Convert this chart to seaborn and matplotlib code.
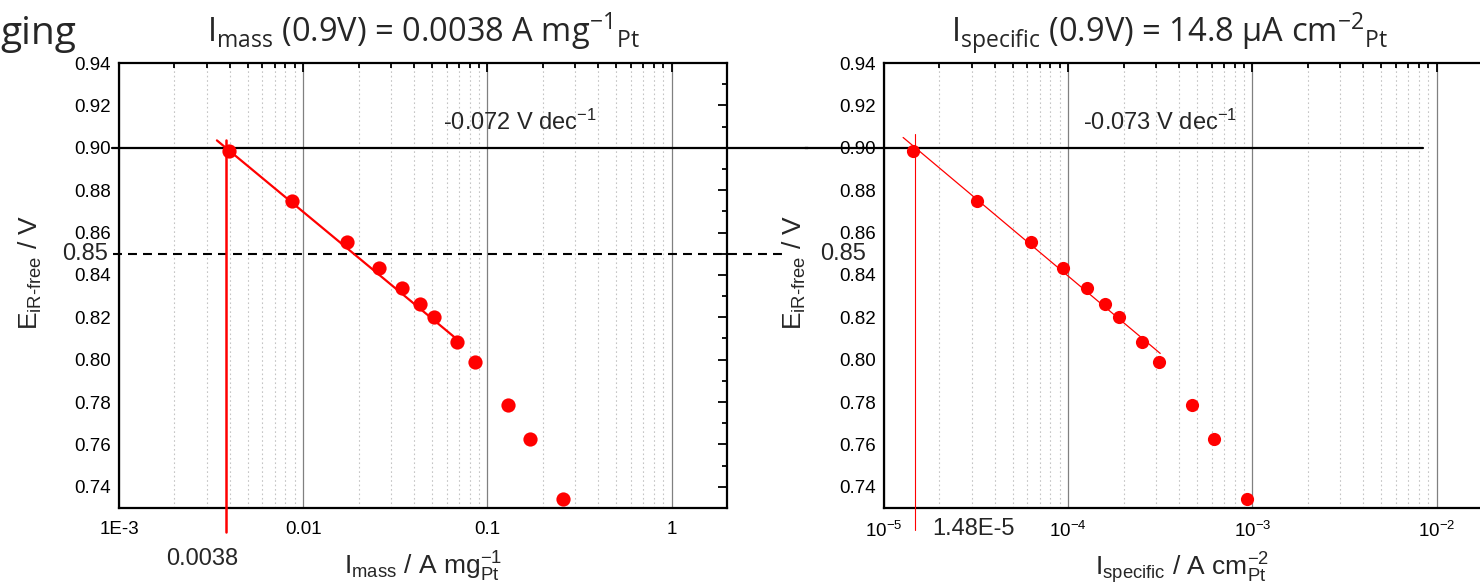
import numpy as np
import matplotlib
matplotlib.use("Agg")
import matplotlib.pyplot as plt
import matplotlib.ticker as mticker
import seaborn as sns

# iR-free potentials of the polarisation points (V)
E_points = [0.8985, 0.8750, 0.8556, 0.8433, 0.8340, 0.8263, 0.8199,
            0.8085, 0.7991, 0.7788, 0.7627, 0.7344]
# mass activity at each point (A mg^-1 Pt)
I_mass = [0.00396, 0.0087, 0.0173, 0.0259, 0.0345, 0.0432, 0.0515,
          0.0687, 0.0861, 0.130, 0.171, 0.259]
# specific activity at each point (A cm^-2 Pt)
I_specific = [1.44e-5, 3.2e-5, 6.3e-5, 9.4e-5, 1.27e-4, 1.59e-4, 1.89e-4,
              2.52e-4, 3.12e-4, 4.72e-4, 6.2e-4, 9.4e-4]

# Tafel analysis at the reference potential
E_ref = 0.90
E_dash = 0.85
I_mass_ref = 0.0038        # A mg^-1 Pt at 0.9 V
I_spec_ref = 1.48e-5       # A cm^-2 Pt at 0.9 V
slope_mass = -0.072        # V dec^-1
slope_spec = -0.073        # V dec^-1
mass_fit_span = [0.0034, 0.0695]
spec_fit_span = [1.27e-5, 3.16e-4]

mass_ticks = [1e-3, 1e-2, 1e-1, 1.0]
mass_ticklabels = ["1E-3", "0.01", "0.1", "1"]
spec_ticks = [1e-5, 1e-4, 1e-3, 1e-2]
spec_ticklabels = [r"$\mathrm{10^{-5}}$", r"$\mathrm{10^{-4}}$",
                   r"$\mathrm{10^{-3}}$", r"$\mathrm{10^{-2}}$"]
E_ticks = [0.74, 0.76, 0.78, 0.80, 0.82, 0.84, 0.86, 0.88, 0.90, 0.92, 0.94]

sns.set_style("white")
plt.rcParams.update({
    "font.family": ["Liberation Sans", "DejaVu Sans"],
    "mathtext.fontset": "custom",
    "mathtext.rm": "Liberation Sans",
    "mathtext.it": "Liberation Sans:italic",
    "mathtext.bf": "Liberation Sans:bold",
    "mathtext.sf": "Open Sans",
})

RED = "#ff0000"


def tafel(I, I0, b):
    return E_ref + b * np.log10(np.asarray(I) / I0)


def style_axes(ax, xlim, ticks, labels):
    ax.set_xscale("log")
    ax.set_xticks(ticks, labels)
    ax.xaxis.set_minor_locator(
        mticker.LogLocator(base=10, subs=np.arange(2, 10), numticks=30))
    ax.xaxis.set_minor_formatter(mticker.NullFormatter())
    ax.set_xlim(*xlim)
    ax.set_yticks(E_ticks, [f"{v:.2f}" for v in E_ticks])
    ax.yaxis.set_minor_locator(mticker.MultipleLocator(0.01))
    ax.set_ylim(0.73, 0.94)
    ax.grid(which="major", axis="x", color="#808080", lw=0.9, ls="-")
    ax.grid(which="minor", axis="x", color="#c4c4c4", lw=0.8,
            ls=(0, (1.5, 2.5)))
    ax.set_axisbelow(True)
    ax.tick_params(which="both", direction="in", top=True, right=True,
                   width=1.3, color="black", labelsize=13.5,
                   labelcolor="black")
    ax.tick_params(which="major", length=6.5)
    ax.tick_params(which="minor", length=3.5)
    ax.tick_params(axis="x", pad=9)
    ax.tick_params(axis="y", pad=6)
    for sp in ax.spines.values():
        sp.set_linewidth(1.6)
        sp.set_color("black")


fig = plt.figure(figsize=(14.8, 5.88), dpi=100)
W, H = 1480, 588
ax1 = fig.add_axes([119 / W, 1 - 508 / H, 608 / W, 445 / H])
ax2 = fig.add_axes([884 / W, 1 - 508 / H, 608 / W, 445 / H])

style_axes(ax1, (1e-3, 2.0), mass_ticks, mass_ticklabels)
style_axes(ax2, (1e-5, 2e-2), spec_ticks, spec_ticklabels)

# ---- mass activity panel ----
ax1.axhline(E_ref, xmin=-0.0115, xmax=1.133, color="black", lw=1.6,
            clip_on=False, zorder=3)
ax1.axhline(E_dash, xmin=-0.0099, xmax=1.095, color="black", lw=1.5,
            ls=(0, (4.3, 2.9)), clip_on=False, zorder=3)
ax1.axvline(I_mass_ref, ymin=-0.054, ymax=0.826, color=RED, lw=1.8,
            clip_on=False, zorder=3)
sns.lineplot(x=mass_fit_span, y=tafel(mass_fit_span, I_mass_ref, slope_mass),
             ax=ax1, color=RED, lw=1.6, zorder=4)
sns.scatterplot(x=I_mass, y=E_points, ax=ax1, color=RED, s=105,
                linewidth=0, zorder=5)

ax1.set_ylabel(r"E$_{\text{iR-free}}$ / V", fontsize=19)
ax1.yaxis.set_label_coords(-0.123, 0.53)
ax1.set_xlabel(r"I$_{\mathrm{mass}}$ / A mg$^{\mathrm{-1}}_{\mathrm{Pt}}$",
               fontsize=19)
ax1.xaxis.set_label_coords(0.5, -0.095)

ax1.text(0.5, 1.047,
         r"I$_{\mathsf{mass}}$ (0.9V) = 0.0038 A mg$^{\mathsf{-1}}$$_{\mathsf{Pt}}$",
         transform=ax1.transAxes, ha="center", va="baseline",
         family="Open Sans", fontsize=23.5)
ax1.text(0.533, 0.849, r"-0.072 V dec$^{\mathrm{-1}}$",
         transform=ax1.transAxes, ha="left", va="baseline", fontsize=17)
ax1.text(0.1365, -0.128, "0.0038", transform=ax1.transAxes,
         ha="center", va="baseline", fontsize=17)
ax1.text(-0.056, E_dash, "0.85", transform=ax1.get_yaxis_transform(),
         ha="center", va="center", fontsize=17)

# ---- specific activity panel ----
ax2.axhline(E_ref, xmin=-0.130, xmax=0.8865, color="black", lw=1.6,
            clip_on=False, zorder=3)
ax2.axvline(I_spec_ref, ymin=-0.049, ymax=0.840, color=RED, lw=0.8,
            clip_on=False, zorder=3)
sns.lineplot(x=spec_fit_span, y=tafel(spec_fit_span, I_spec_ref, slope_spec),
             ax=ax2, color=RED, lw=0.9, zorder=4)
sns.scatterplot(x=I_specific, y=E_points, ax=ax2, color=RED, s=90,
                linewidth=0, zorder=5)

ax2.set_ylabel(r"E$_{\text{iR-free}}$ / V", fontsize=19)
ax2.yaxis.set_label_coords(-0.125, 0.53)
ax2.set_xlabel(r"I$_{\mathrm{specific}}$ / A cm$^{\mathrm{-2}}_{\mathrm{Pt}}$",
               fontsize=19)
ax2.xaxis.set_label_coords(0.49, -0.095)

ax2.text(0.47, 1.047,
         r"I$_{\mathsf{specific}}$ (0.9V) = 14.8 μA cm$^{\mathsf{-2}}$$_{\mathsf{Pt}}$",
         transform=ax2.transAxes, ha="center", va="baseline",
         family="Open Sans", fontsize=23.5)
ax2.text(0.327, 0.849, r"-0.073 V dec$^{\mathrm{-1}}$",
         transform=ax2.transAxes, ha="left", va="baseline", fontsize=17)
ax2.text(0.147, -0.061, "1.48E-5", transform=ax2.transAxes,
         ha="center", va="baseline", fontsize=17)
ax2.text(-0.067, E_dash, "0.85", transform=ax2.get_yaxis_transform(),
         ha="center", va="center", fontsize=17)

fig.text(0.0, 1 - 44 / H, "ging", ha="left", va="baseline",
         family="Open Sans", fontsize=28)

fig.savefig("out.png", dpi=100)
